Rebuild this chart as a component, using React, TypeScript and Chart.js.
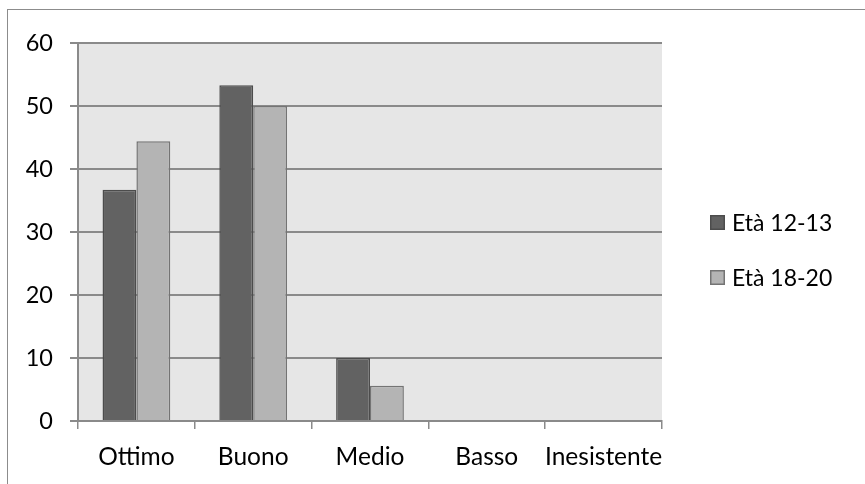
import React, { useEffect, useRef } from "react";
import { Chart, registerables } from "chart.js";

Chart.register(...registerables);

const categories = ["Ottimo", "Buono", "Medio", "Basso", "Inesistente"];
const seriesLabels = ["Età 12-13", "Età 18-20"];
const values1213 = [36.7, 53.3, 10, 0, 0];
const values1820 = [44.4, 50, 5.6, 0, 0];
const yTicks = [0, 10, 20, 30, 40, 50, 60];

const FONT = "Lato, 'Open Sans', sans-serif";

const bgPlugin = {
  id: "plotBg",
  beforeDraw(chart: any) {
    const { ctx, chartArea } = chart;
    ctx.save();
    ctx.fillStyle = "#e6e6e6";
    ctx.fillRect(chartArea.left, chartArea.top, chartArea.right - chartArea.left, chartArea.bottom - chartArea.top);
    ctx.restore();
  },
};

const legendPlugin = {
  id: "customLegend",
  afterDraw(chart: any) {
    const { ctx, chartArea } = chart;
    const x0 = chartArea.right + 48;
    const y0 = 222.5;
    const gap = 55;
    ctx.save();
    chart.data.datasets.forEach((ds: any, i: number) => {
      const cy = y0 + i * gap;
      ctx.fillStyle = ds.backgroundColor;
      ctx.fillRect(x0, cy - 7.5, 15, 15);
      ctx.strokeStyle = ds.borderColor;
      ctx.lineWidth = 1.5;
      ctx.strokeRect(x0 + 0.75, cy - 6.75, 13.5, 13.5);
      ctx.fillStyle = "#000";
      ctx.font = `23px ${FONT}`;
      ctx.textBaseline = "middle";
      ctx.textAlign = "left";
      ctx.fillText(ds.label, x0 + 22, cy + 1);
    });
    ctx.restore();
  },
};

export default function App() {
  const ref = useRef<HTMLCanvasElement>(null);
  useEffect(() => {
    if (!ref.current) return;
    const chart = new Chart(ref.current, {
      type: "bar",
      data: {
        labels: categories,
        datasets: [
          {
            label: seriesLabels[0],
            data: values1213,
            backgroundColor: "#626262",
            borderColor: "#4c4c4c",
            borderWidth: 1.5,
            categoryPercentage: 0.58,
            barPercentage: 1,
          },
          {
            label: seriesLabels[1],
            data: values1820,
            backgroundColor: "#b4b4b4",
            borderColor: "#747474",
            borderWidth: 1.5,
            categoryPercentage: 0.58,
            barPercentage: 1,
          },
        ],
      },
      options: {
        animation: false,
        responsive: false,
        maintainAspectRatio: false,
        layout: { padding: { left: 0, top: 43, right: 203, bottom: 0 } },
        plugins: { legend: { display: false }, tooltip: { enabled: false } },
        scales: {
          x: {
            grid: {
              offset: true,
              drawOnChartArea: false,
              drawTicks: true,
              tickLength: 8,
              color: "#8a8a8a",
              lineWidth: 1.5,
            },
            border: { color: "#8a8a8a", width: 2 },
            ticks: { color: "#000", font: { family: FONT, size: 24.5 }, padding: 13, maxRotation: 0, autoSkip: false },
            afterFit(scale: any) {
              scale.height = 63;
            },
          },
          y: {
            min: 0,
            max: 60,
            afterBuildTicks(scale: any) {
              scale.ticks = yTicks.map((v) => ({ value: v }));
            },
            grid: { color: "#8a8a8a", lineWidth: 2, tickLength: 8 },
            border: { color: "#8a8a8a", width: 2 },
            ticks: { color: "#000", font: { family: FONT, size: 23.5 }, padding: 17 },
            afterFit(scale: any) {
              scale.width = 78;
            },
          },
        },
      },
      plugins: [bgPlugin, legendPlugin],
    });
    return () => chart.destroy();
  }, []);

  return (
    <div style={{ position: "fixed", left: 0, top: 0, width: 865, height: 484, overflow: "hidden", background: "#fff" }}>
      <div
        style={{
          position: "absolute",
          left: 7,
          top: 9,
          width: 900,
          height: 500,
          border: "1.5px solid #8c8c8c",
          boxSizing: "border-box",
        }}
      />
      <canvas ref={ref} width={865} height={484} style={{ position: "absolute", left: 0, top: 0, width: 865, height: 484 }} />
    </div>
  );
}
